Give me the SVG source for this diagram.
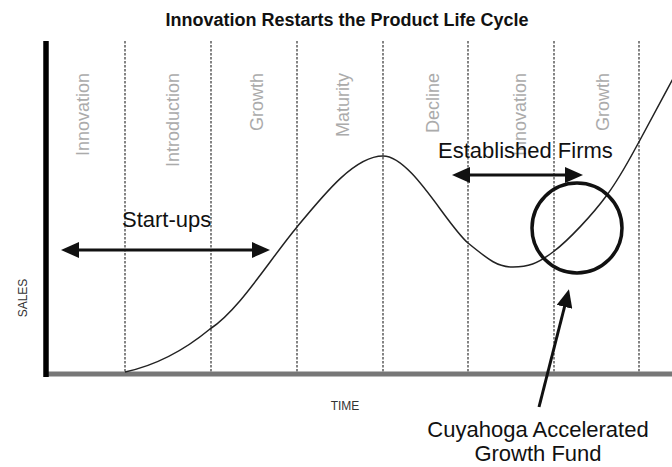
<svg xmlns="http://www.w3.org/2000/svg" width="672" height="467" viewBox="0 0 672 467">
  <style>
    .title { font-family: "Liberation Sans", Arial, sans-serif; font-size: 18px; font-weight: bold; fill: #111; }
    .phase { font-family: "Liberation Sans", Arial, sans-serif; font-size: 18px; fill: #ababab; }
    .axislbl { font-family: "Liberation Sans", Arial, sans-serif; font-size: 12px; fill: #333; }
    .big { font-family: "Liberation Sans", Arial, sans-serif; font-size: 22px; fill: #111; }
    .grid { stroke: #333; stroke-width: 1.2; stroke-dasharray: 2.5 1.5; }
    .arrow { stroke: #111; stroke-width: 3; fill: none; }
  </style>
  <defs>
    <marker id="head" viewBox="0 0 18 16" refX="6" refY="8" markerWidth="18" markerHeight="16" markerUnits="userSpaceOnUse" orient="auto-start-reverse">
      <path d="M0,0 L18,8 L0,16 z" fill="#111"/>
    </marker>
  </defs>

  <rect width="672" height="467" fill="#fff"/>

  <text class="title" x="347" y="26" text-anchor="middle">Innovation Restarts the Product Life Cycle</text>

  <!-- phase boundaries -->
  <g id="gridlines">
    <line class="grid" x1="125" y1="41" x2="125" y2="372"/>
    <line class="grid" x1="211" y1="41" x2="211" y2="372"/>
    <line class="grid" x1="297" y1="41" x2="297" y2="372"/>
    <line class="grid" x1="383" y1="41" x2="383" y2="372"/>
    <line class="grid" x1="468" y1="41" x2="468" y2="372"/>
    <line class="grid" x1="554" y1="41" x2="554" y2="372"/>
    <line class="grid" x1="639" y1="41" x2="639" y2="372"/>
  </g>

  <!-- phase names, reading bottom to top -->
  <g id="phases" text-anchor="end">
    <text class="phase" transform="translate(89,73) rotate(-90)">Innovation</text>
    <text class="phase" transform="translate(179,73) rotate(-90)">Introduction</text>
    <text class="phase" transform="translate(263,73) rotate(-90)">Growth</text>
    <text class="phase" transform="translate(349,73) rotate(-90)">Maturity</text>
    <text class="phase" transform="translate(439,73) rotate(-90)">Decline</text>
    <text class="phase" transform="translate(526,73) rotate(-90)">Innovation</text>
    <text class="phase" transform="translate(609,73) rotate(-90)">Growth</text>
  </g>

  <!-- axes -->
  <g id="axes">
    <line x1="44" y1="374" x2="672" y2="374" stroke="#777" stroke-width="5"/>
    <line x1="46" y1="41" x2="46" y2="377" stroke="#000" stroke-width="5.5"/>
    <text class="axislbl" transform="translate(27,298) rotate(-90)" text-anchor="middle">SALES</text>
    <text class="axislbl" x="345" y="410" text-anchor="middle">TIME</text>
  </g>

  <!-- sales curve -->
  <path id="curve" d="M125,372 C153,366 181,353 210,329 C239,310 268,262 297,227 C325,193 355,156 383,156 C411,156 446,224 468,243 C490,261 498,267 513,267 C528,267 537,264 553,252 C569,240 593,214 607,195 C621,176 629,160 640,140 C651,120 663,97 675,75" fill="none" stroke="#222" stroke-width="1.5"/>

  <g id="startups">
    <text class="big" x="122" y="227">Start-ups</text>
  </g>

  <g id="established">
    <text class="big" x="438" y="158">Established Firms</text>
  </g>

  <g id="fund-circle">
    <circle cx="577" cy="228" r="45" fill="none" stroke="#111" stroke-width="3.5"/>
  </g>

  <g id="fund">
    <text class="big" x="538" y="437" text-anchor="middle">Cuyahoga Accelerated</text>
    <text class="big" x="538" y="461" text-anchor="middle">Growth Fund</text>
  </g>

  <g id="connectors">
    <line class="arrow" x1="73" y1="250" x2="258" y2="250" marker-start="url(#head)" marker-end="url(#head)"/>
    <line class="arrow" x1="464" y1="175" x2="571" y2="175" marker-start="url(#head)" marker-end="url(#head)"/>
    <line class="arrow" x1="539" y1="407" x2="566" y2="301" marker-end="url(#head)"/>
  </g>
</svg>
